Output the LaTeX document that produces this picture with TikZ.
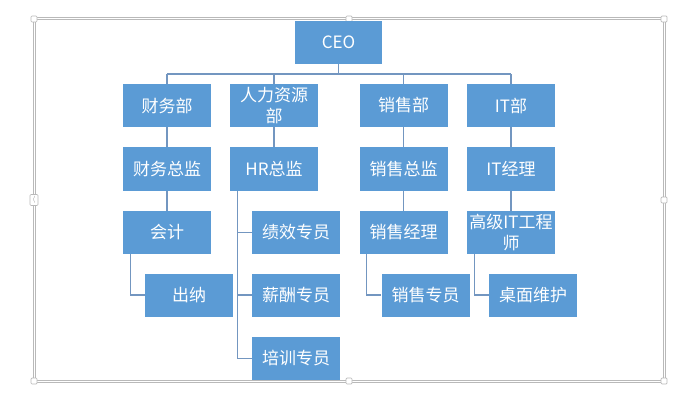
\documentclass[tikz,border=0pt]{standalone}
\usepackage{fontspec}
\newfontfamily\cjk{Noto Sans CJK SC}
\definecolor{boxblue}{RGB}{91,155,213}
\definecolor{linkblue}{RGB}{115,150,192}
\definecolor{framegray}{RGB}{185,185,185}
\begin{document}
\begin{tikzpicture}[x=1pt,y=-1pt,
  box/.style={rectangle,fill=boxblue,text=white,minimum width=88pt,minimum height=43pt,inner sep=0pt,align=center,font=\cjk\fontsize{17}{21}\selectfont},
  link/.style={draw=linkblue,line width=1.2pt},
  handle/.style={draw=framegray,fill=white,line width=0.7pt,rounded corners=1pt,minimum size=6pt,inner sep=0pt}]
\useasboundingbox (0,0) rectangle (700,398);
% frame
\draw[draw=framegray,line width=3pt] (34,19) rectangle (664,381);
\draw[draw=white,line width=1pt] (34,19) rectangle (664,381);
\foreach \p/\q in {34/19,349/19,664/19,34/381,349/381,664/381,664/200}
  \node[handle] at (\p,\q) {};
\node[handle,minimum width=8pt,minimum height=11pt,font=\fontsize{7}{7}\selectfont,text=gray] (lh) at (34,200) {$\langle$};
% nodes
\node[box,minimum width=87pt] (ceo) at (338.5,42.5) {CEO};
\node[box] (fin) at (167,105.5) {财务部};
\node[box] (hr) at (274,105.5) {人力资源\\部};
\node[box] (sal) at (403.5,105.5) {销售部};
\node[box] (it) at (511,105.5) {IT部};
\node[box] (finD) at (167,169) {财务总监};
\node[box] (hrD) at (274,169) {HR总监};
\node[box] (salD) at (403.5,169) {销售总监};
\node[box] (itD) at (511,169) {IT经理};
\node[box] (acc) at (167,232.5) {会计};
\node[box] (perf) at (296,232.5) {绩效专员};
\node[box] (salM) at (403.5,232.5) {销售经理};
\node[box] (eng) at (511,232.5) {高级IT工程\\师};
\node[box] (cash) at (189,295) {出纳};
\node[box] (pay) at (296,295) {薪酬专员};
\node[box] (salS) at (425.5,295) {销售专员};
\node[box] (desk) at (533,295) {桌面维护};
\node[box] (train) at (296,358.5) {培训专员};
% connectors
\coordinate (bus) at (0,74);
\draw[link] (ceo.south) -- (ceo.south|-bus);
\draw[link] (fin.north|-bus) -- (it.north|-bus);
\foreach \n in {fin,hr,sal,it} \draw[link] (\n.north) -- (\n.north|-bus);
\draw[link] (fin) -- (finD);
\draw[link] (hr) -- (hrD);
\draw[link] (sal) -- (salD);
\draw[link] (it) -- (itD);
\draw[link] (finD) -- (acc);
\draw[link] (salD) -- (salM);
\draw[link] (itD) -- (eng);
\draw[link] ([xshift=8pt]acc.south west) |- (cash.west);
\draw[link] ([xshift=7pt]salM.south west) |- (salS.west);
\draw[link] ([xshift=8pt]eng.south west) |- (desk.west);
\draw[link] ([xshift=8pt]hrD.south west) |- (train.west);
\draw[link] ([xshift=8pt]hrD.south west) |- (perf.west);
\draw[link] ([xshift=8pt]hrD.south west) |- (pay.west);
\end{tikzpicture}
\end{document}
